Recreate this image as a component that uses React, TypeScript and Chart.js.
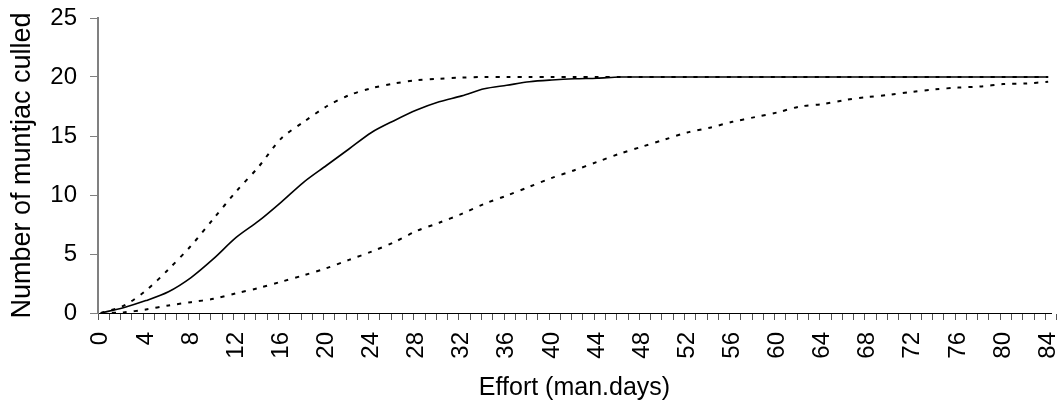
import React, { useEffect, useRef } from "react";
import { Chart, registerables } from "chart.js";

Chart.register(...registerables);

// Effort (man.days) at which values were read
const days = [
  0, 2, 4, 6, 8, 10, 12, 14, 16, 18, 20, 22, 24, 26, 28, 30, 32, 34, 36, 38, 40, 42,
  44, 46, 48, 50, 52, 54, 56, 58, 60, 62, 64, 66, 68, 70, 72, 74, 76, 78, 80, 82, 84,
];

// upper dashed curve (fast)
const upperCulled = [
  0, 0.6, 1.9, 3.7, 5.7, 8.0, 10.3, 12.4, 14.8, 16.2, 17.5, 18.45, 19.05, 19.45, 19.72,
  19.85, 19.95, 20, 20, 20, 20, 20, 20, 20, 20, 20, 20, 20, 20, 20, 20, 20, 20, 20, 20,
  20, 20, 20, 20, 20, 20, 20, 20,
];

// middle solid curve
const middleCulled = [
  0, 0.45, 1.05, 1.8, 3.0, 4.6, 6.4, 7.8, 9.4, 11.1, 12.5, 13.9, 15.3, 16.3, 17.2, 17.9,
  18.4, 19.0, 19.3, 19.6, 19.75, 19.85, 19.9, 20, 20, 20, 20, 20, 20, 20, 20, 20, 20, 20,
  20, 20, 20, 20, 20, 20, 20, 20, 20,
];

// lower dashed curve (slow)
const lowerCulled = [
  0, 0.05, 0.3, 0.64, 0.92, 1.2, 1.67, 2.12, 2.65, 3.2, 3.8, 4.5, 5.2, 6.0, 6.95, 7.65,
  8.4, 9.25, 9.95, 10.7, 11.45, 12.1, 12.8, 13.5, 14.1, 14.7, 15.3, 15.7, 16.2, 16.6, 17.0,
  17.5, 17.7, 18.05, 18.3, 18.5, 18.75, 18.96, 19.1, 19.2, 19.4, 19.45, 19.6,
];

const yTicks = [0, 5, 10, 15, 20, 25];
const xLabelEvery = 4;
const xMax = 84;

const FONT = "'Liberation Sans', Arial, sans-serif";

export default function App() {
  const ref = useRef<HTMLCanvasElement | null>(null);

  useEffect(() => {
    document.body.style.margin = "0";
    const toPts = (vals: number[]) => days.map((d, i) => ({ x: d, y: vals[i] }));
    const chart = new Chart(ref.current as HTMLCanvasElement, {
      type: "line",
      data: {
        datasets: [
          {
            label: "lower",
            data: toPts(lowerCulled),
            borderColor: "#000",
            borderWidth: 2,
            borderDash: [4, 7],
            pointRadius: 0,
            tension: 0.3,
            fill: false,
          },
          {
            label: "upper",
            data: toPts(upperCulled),
            borderColor: "#000",
            borderWidth: 2,
            borderDash: [4, 7],
            pointRadius: 0,
            tension: 0.3,
            fill: false,
          },
          {
            label: "middle",
            data: toPts(middleCulled),
            borderColor: "#000",
            borderWidth: 1.6,
            pointRadius: 0,
            tension: 0.3,
            fill: false,
          },
        ],
      },
      options: {
        animation: false,
        responsive: true,
        maintainAspectRatio: false,
        layout: { padding: { top: 18, right: 8, left: 0, bottom: 0 } },
        plugins: { legend: { display: false }, tooltip: { enabled: false } },
        scales: {
          x: {
            type: "linear",
            min: -0.25,
            max: xMax + 0.25,
            afterBuildTicks: (axis: any) => {
              const t: { value: number }[] = [];
              for (let k = 0; k <= xMax + 1; k++) t.push({ value: k - 0.25 });
              axis.ticks = t;
            },
            afterFit: (axis: any) => {
              axis.height = 90;
              axis.paddingLeft = 0;
              axis.paddingRight = 0;
              axis.paddingTop = 0;
              axis.paddingBottom = 0;
            },
            border: { display: true, color: "#000", width: 1 },
            grid: {
              drawOnChartArea: false,
              drawTicks: true,
              tickLength: 7,
              tickColor: "#555",
              tickWidth: 1,
            },
            ticks: {
              autoSkip: false,
              minRotation: 90,
              maxRotation: 90,
              padding: 12,
              labelOffset: 2.8,
              color: "#000",
              font: { family: FONT, size: 24 },
              callback: (v: any) => {
                const d = Math.round(Number(v) + 0.25);
                return d % xLabelEvery === 0 ? String(d) : "";
              },
            },
            title: {
              display: true,
              text: "Effort (man.days)",
              color: "#000",
              font: { family: FONT, size: 25 },
              padding: { top: 0, bottom: 0 },
            },
          },
          y: {
            min: 0,
            max: 25,
            afterBuildTicks: (axis: any) => {
              axis.ticks = yTicks.map((v) => ({ value: v }));
            },
            afterFit: (axis: any) => {
              axis.width = 98;
              axis.paddingLeft = 0;
              axis.paddingRight = 0;
              axis.paddingTop = 0;
              axis.paddingBottom = 0;
            },
            border: { display: true, color: "#808080", width: 2 },
            grid: {
              drawOnChartArea: false,
              drawTicks: true,
              tickLength: 8,
              tickColor: "#808080",
              tickWidth: 1,
            },
            ticks: {
              padding: 13,
              color: "#000",
              font: { family: FONT, size: 24 },
            },
            title: {
              display: true,
              text: "Number of muntjac culled",
              color: "#000",
              font: { family: FONT, size: 27 },
              padding: { top: 6, bottom: 0 },
            },
          },
        },
      },
    });
    return () => chart.destroy();
  }, []);

  return (
    <div style={{ position: "absolute", left: 0, top: 0, width: 1059, height: 403, background: "#fff" }}>
      <canvas ref={ref} />
    </div>
  );
}
